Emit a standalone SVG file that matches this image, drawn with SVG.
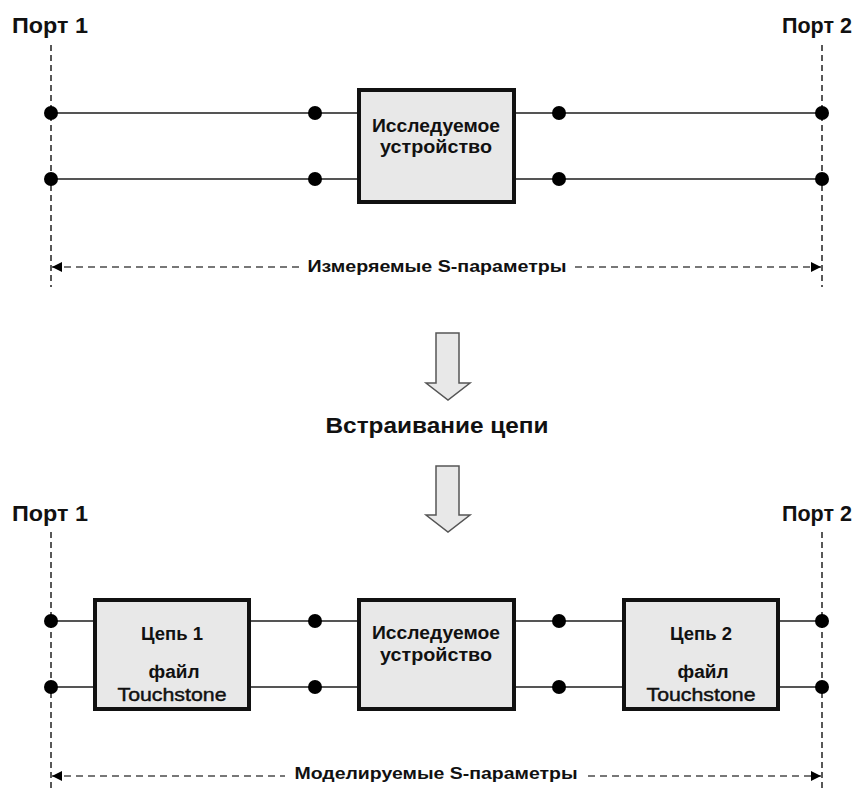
<svg xmlns="http://www.w3.org/2000/svg" width="865" height="792" viewBox="0 0 865 792">
<defs>
<style>
.t{font-family:"Liberation Sans",Arial,sans-serif;font-weight:bold;fill:#111;text-anchor:middle}
.port{font-size:22px}
.box{font-size:18px}
.ts{font-size:19px;font-weight:normal;stroke:#111;stroke-width:0.45}
.dim{font-size:17px}
.wire{stroke:#555;stroke-width:2;fill:none}
.pl{stroke:#222;stroke-width:1.5;stroke-dasharray:6 4;fill:none}
.dl{stroke:#777;stroke-width:2;stroke-dasharray:7 5;fill:none}
.blk{fill:#e8e8e8;stroke:#111;stroke-width:4}
.dot{fill:#000}
.barrow{fill:#e8e8e8;stroke:#555;stroke-width:1.5}
</style>
<marker id="ah" viewBox="0 0 10 10" refX="10" refY="5" markerWidth="10" markerHeight="10" markerUnits="userSpaceOnUse" orient="auto-start-reverse">
<path d="M0,0 L10,5 L0,10 Z" fill="#000"/>
</marker>
</defs>
<rect width="865" height="792" fill="#fff"/>

<g id="connectors">
<line class="pl" x1="51" y1="45" x2="51" y2="287"/>
<line class="pl" x1="822" y1="45" x2="822" y2="287"/>
<line class="wire" x1="51" y1="113" x2="357" y2="113"/>
<line class="wire" x1="51" y1="179" x2="357" y2="179"/>
<line class="wire" x1="516" y1="113" x2="822" y2="113"/>
<line class="wire" x1="516" y1="179" x2="822" y2="179"/>
<line class="dl" x1="52" y1="267" x2="300" y2="267" marker-start="url(#ah)"/>
<line class="dl" x1="575" y1="267" x2="821" y2="267" marker-end="url(#ah)"/>

<line class="pl" x1="51" y1="532" x2="51" y2="792"/>
<line class="pl" x1="822" y1="532" x2="822" y2="792"/>
<line class="wire" x1="51" y1="621" x2="93" y2="621"/>
<line class="wire" x1="51" y1="687" x2="93" y2="687"/>
<line class="wire" x1="251" y1="621" x2="357" y2="621"/>
<line class="wire" x1="251" y1="687" x2="357" y2="687"/>
<line class="wire" x1="516" y1="621" x2="622" y2="621"/>
<line class="wire" x1="516" y1="687" x2="622" y2="687"/>
<line class="wire" x1="780" y1="621" x2="822" y2="621"/>
<line class="wire" x1="780" y1="687" x2="822" y2="687"/>
<line class="dl" x1="52" y1="776" x2="285" y2="776" marker-start="url(#ah)"/>
<line class="dl" x1="588" y1="776" x2="821" y2="776" marker-end="url(#ah)"/>

<path class="barrow" d="M436,333 H459 V383 H470 L448,400 L426,383 H436 Z"/>
<path class="barrow" d="M436,466 H459 V515 H470 L448,532 L426,515 H436 Z"/>
</g>

<g id="dots">
<circle class="dot" cx="51" cy="113" r="7"/>
<circle class="dot" cx="51" cy="179" r="7"/>
<circle class="dot" cx="315" cy="113" r="7"/>
<circle class="dot" cx="315" cy="179" r="7"/>
<circle class="dot" cx="559" cy="113" r="7"/>
<circle class="dot" cx="559" cy="179" r="7"/>
<circle class="dot" cx="822" cy="113" r="7"/>
<circle class="dot" cx="822" cy="179" r="7"/>
<circle class="dot" cx="51" cy="621" r="7"/>
<circle class="dot" cx="51" cy="687" r="7"/>
<circle class="dot" cx="315" cy="621" r="7"/>
<circle class="dot" cx="315" cy="687" r="7"/>
<circle class="dot" cx="559" cy="621" r="7"/>
<circle class="dot" cx="559" cy="687" r="7"/>
<circle class="dot" cx="822" cy="621" r="7"/>
<circle class="dot" cx="822" cy="687" r="7"/>
</g>

<g id="labels">
<text class="t port" x="50" y="33" textLength="76" lengthAdjust="spacingAndGlyphs">Порт 1</text>
<text class="t port" x="817" y="33" textLength="70" lengthAdjust="spacingAndGlyphs">Порт 2</text>
<text class="t dim" x="437" y="272" textLength="259" lengthAdjust="spacingAndGlyphs">Измеряемые S-параметры</text>
<text class="t" style="font-size:22px" x="437" y="433" textLength="223" lengthAdjust="spacingAndGlyphs">Встраивание цепи</text>
<text class="t port" x="50" y="521" textLength="76" lengthAdjust="spacingAndGlyphs">Порт 1</text>
<text class="t port" x="817" y="521" textLength="70" lengthAdjust="spacingAndGlyphs">Порт 2</text>
<text class="t dim" x="436" y="779" textLength="283" lengthAdjust="spacingAndGlyphs">Моделируемые S-параметры</text>
</g>

<g id="dut-top">
<rect class="blk" x="359" y="90" width="155" height="112"/>
<text class="t box" x="436" y="132" textLength="128" lengthAdjust="spacingAndGlyphs">Исследуемое</text>
<text class="t box" x="436" y="153" textLength="112" lengthAdjust="spacingAndGlyphs">устройство</text>
</g>

<g id="net1">
<rect class="blk" x="95" y="600" width="154" height="109"/>
<text class="t box" x="172" y="640" textLength="62" lengthAdjust="spacingAndGlyphs">Цепь 1</text>
<text class="t box" x="174" y="678" textLength="51" lengthAdjust="spacingAndGlyphs">файл</text>
<text class="t ts" x="172" y="701" textLength="109" lengthAdjust="spacingAndGlyphs">Touchstone</text>
</g>

<g id="dut-bottom">
<rect class="blk" x="359" y="600" width="155" height="109"/>
<text class="t box" x="436" y="639" textLength="128" lengthAdjust="spacingAndGlyphs">Исследуемое</text>
<text class="t box" x="436" y="661" textLength="112" lengthAdjust="spacingAndGlyphs">устройство</text>
</g>

<g id="net2">
<rect class="blk" x="624" y="600" width="154" height="109"/>
<text class="t box" x="701" y="640" textLength="62" lengthAdjust="spacingAndGlyphs">Цепь 2</text>
<text class="t box" x="703" y="678" textLength="51" lengthAdjust="spacingAndGlyphs">файл</text>
<text class="t ts" x="701" y="701" textLength="109" lengthAdjust="spacingAndGlyphs">Touchstone</text>
</g>
</svg>
